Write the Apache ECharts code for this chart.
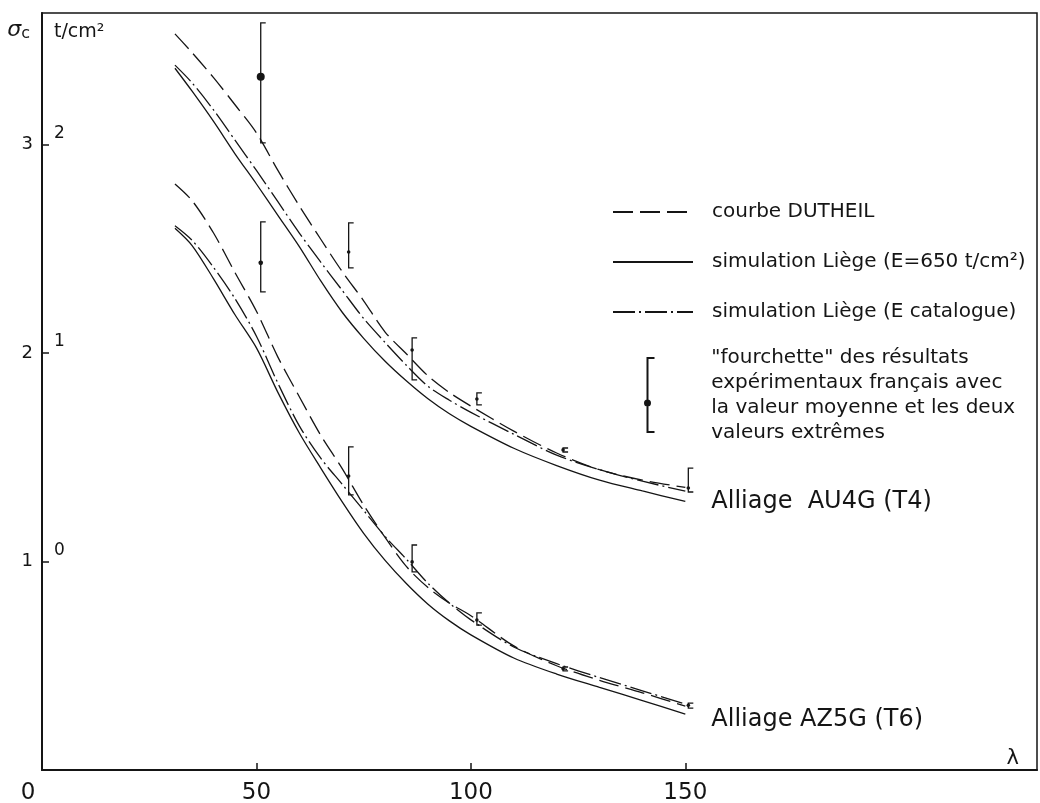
<!DOCTYPE html>
<html>
<head>
<meta charset="utf-8">
<script src="https://cdn.jsdelivr.net/npm/echarts@6/dist/echarts.min.js"></script>
<style>
	html, body { margin: 0; padding: 0; background: #fff; }
	#chart { width: 1040px; height: 803px; }
</style>
</head>
<body>
<div id="chart"></div>
<script>
// λ (elancement) for the curves
var LAMBDA = [31, 35, 40, 45, 50, 55, 60, 65, 70, 75, 80, 85, 90, 95, 100, 110, 120, 130, 140, 150];

// Alliage AU4G (T4) - read on the inner scale (0,1,2)
var AU4G_DUTHEIL = [2.53, 2.44, 2.32, 2.19, 2.055, 1.875, 1.705, 1.545, 1.39, 1.25, 1.10, 0.995, 0.89, 0.81, 0.745, 0.625, 0.52, 0.44, 0.39, 0.355];
var AU4G_E650 = [2.365, 2.255, 2.11, 1.955, 1.81, 1.66, 1.51, 1.345, 1.195, 1.07, 0.96, 0.865, 0.78, 0.708, 0.648, 0.543, 0.46, 0.39, 0.338, 0.288];
var AU4G_CATALOGUE = [2.38, 2.295, 2.165, 2.02, 1.875, 1.725, 1.575, 1.435, 1.30, 1.165, 1.05, 0.94, 0.84, 0.773, 0.715, 0.61, 0.51, 0.44, 0.385, 0.337];

// Alliage AZ5G (T6) - read on the outer scale (1,2,3)
var AZ5G_DUTHEIL = [2.81, 2.73, 2.575, 2.385, 2.2, 1.98, 1.79, 1.605, 1.445, 1.27, 1.115, 0.975, 0.875, 0.80, 0.74, 0.595, 0.50, 0.43, 0.37, 0.306];
var AZ5G_E650 = [2.598, 2.515, 2.355, 2.183, 2.024, 1.811, 1.616, 1.448, 1.286, 1.135, 1.005, 0.893, 0.795, 0.715, 0.648, 0.537, 0.46, 0.396, 0.333, 0.268];
var AZ5G_CATALOGUE = [2.61, 2.54, 2.41, 2.26, 2.08, 1.855, 1.65, 1.495, 1.37, 1.245, 1.12, 1.01, 0.895, 0.80, 0.72, 0.59, 0.51, 0.443, 0.38, 0.316];

// "fourchette" des resultats experimentaux
var ERR_LAMBDA = [51, 71.5, 86.3, 101.4, 121.5, 150.7];
var AU4G_LOW = [2.007, 1.408, 0.871, 0.751, 0.525, 0.333];
var AU4G_HIGH = [2.583, 1.624, 1.072, 0.808, 0.544, 0.448];
var AU4G_MEAN = [2.324, 1.484, 1.014, 0.779, 0.535, 0.352];
var AZ5G_LOW = [2.293, 1.319, 0.950, 0.695, 0.475, 0.297];
var AZ5G_HIGH = [2.628, 1.549, 1.079, 0.753, 0.494, 0.321];
var AZ5G_MEAN = [2.432, 1.410, 0.998, 0.719, 0.485, 0.310];

// axes
var X_TICKS = [50, 100, 150];
var X_LABELS = [0, 50, 100, 150];
var Y_OUTER_LABELS = [1, 2, 3];
var Y_INNER_LABELS = [0, 1, 2];

var NAME_DUTHEIL = 'courbe DUTHEIL';
var NAME_E650 = 'simulation Liège (E=650 t/cm²)';
var NAME_CATALOGUE = 'simulation Liège (E catalogue)';
var NAME_FORK = '"fourchette" des résultats\nexpérimentaux français avec\nla valeur moyenne et les deux\nvaleurs extrêmes';
var ALLOY_LABELS = ['Alliage  AU4G (T4)', 'Alliage AZ5G (T6)'];

var INK = '#151515';
var FONT = 'DejaVu Sans';
var BRACKET_ICON = 'path://M3,0 L11,0 L11,2 L5,2 L5,74 L11,74 L11,76 L3,76 Z M0.5,46 A3.5,3.5 0 1,1 7.5,46 A3.5,3.5 0 1,1 0.5,46 Z';

var sigmaChart = {
	zip : function(xs, ys) {
		var out = [];
		for (var i = 0; i < xs.length; i++) {
			out.push([xs[i], ys[i]]);
		}
		return out;
	},
	bars : function(low, high, mean) {
		var out = [];
		for (var i = 0; i < ERR_LAMBDA.length; i++) {
			out.push([ERR_LAMBDA[i], low[i], high[i], mean[i]]);
		}
		return out;
	},
	/**
	 * bracket "[" with the mean value as a dot
	 */
	renderBracket : function(params, api) {
		var x = api.value(0);
		var top = api.coord([x, api.value(2)]);
		var bot = api.coord([x, api.value(1)]);
		var mid = api.coord([x, api.value(3)]);
		var r = Math.min(4, Math.max(1.8, (bot[1] - top[1]) / 30));
		return {
			type: 'group',
			children: [
				{
					type: 'polyline',
					shape: { points: [[top[0] + 5, top[1]], [top[0], top[1]], [bot[0], bot[1]], [bot[0] + 5, bot[1]]] },
					style: { stroke: INK, fill: null, lineWidth: 1.3 }
				},
				{
					type: 'circle',
					shape: { cx: mid[0], cy: mid[1], r: r },
					style: { fill: INK }
				}
			]
		};
	},
	lineSeries : function(name, data, yIndex, dash, endText, endOffset) {
		var s = {
			name: name,
			type: 'line',
			yAxisIndex: yIndex,
			data: data,
			smooth: 0.3,
			symbol: 'none',
			silent: true,
			lineStyle: { color: INK, width: 1.3, type: dash },
			itemStyle: { color: INK }
		};
		if (endText) {
			s.endLabel = {
				show: true,
				formatter: endText,
				distance: 26,
				offset: endOffset,
				color: INK,
				fontFamily: FONT,
				fontSize: 24
			};
		}
		return s;
	},
	show : function() {
		var myChart = echarts.init(document.getElementById('chart'));
		var dashLong = [20, 7];
		var dashDot = [22, 4, 2, 4];
		var option = {
			animation: false,
			backgroundColor: '#fff',
			textStyle: { fontFamily: FONT, color: INK },
			grid: {
				left: 42, right: 3, top: 13, bottom: 33,
				show: true, borderColor: INK, borderWidth: 1.5,
				containLabel: false, outerBoundsMode: 'none'
			},
			legend: [
				{
					data: [NAME_DUTHEIL, NAME_E650, NAME_CATALOGUE],
					orient: 'vertical',
					left: 612, top: 200,
					padding: 0,
					itemWidth: 80, itemHeight: 14, itemGap: 26,
					selectedMode: false,
					itemStyle: { opacity: 0, color: 'transparent', borderWidth: 0 },
					textStyle: { fontFamily: FONT, fontSize: 20, lineHeight: 24, color: INK, padding: [0, 0, 0, 14] }
				},
				{
					data: [{ name: NAME_FORK, icon: BRACKET_ICON }],
					orient: 'vertical',
					left: 644, top: 345,
					padding: 0,
					itemWidth: 12, itemHeight: 76,
					selectedMode: false,
					itemStyle: { color: INK, borderWidth: 0 },
					textStyle: { fontFamily: FONT, fontSize: 20, lineHeight: 25, color: INK, padding: [0, 0, 0, 51] }
				}
			],
			xAxis: {
				type: 'value',
				min: 0, max: 232, interval: 50,
				name: 'λ',
				nameLocation: 'end',
				nameGap: -18,
				nameTextStyle: { fontFamily: FONT, fontSize: 21, color: INK, align: 'right', verticalAlign: 'bottom', padding: [0, 0, 1, 0] },
				axisLine: { lineStyle: { color: INK, width: 2 } },
				axisTick: { inside: true, length: 7, lineStyle: { color: INK, width: 1.5 }, customValues: X_TICKS },
				axisLabel: {
					customValues: X_LABELS,
					margin: 12,
					fontFamily: FONT, fontSize: 23, color: INK,
					formatter: function(v) { return v === 0 ? '{z|0}' : String(v); },
					rich: { z: { fontFamily: FONT, fontSize: 23, color: INK, padding: [0, 28, 0, 0] } }
				},
				splitLine: { show: false }
			},
			yAxis: [
				{
					type: 'value',
					min: 0, max: 3.63, interval: 1,
					name: '{s|σ}{c|c}',
					nameLocation: 'end',
					nameGap: -29,
					nameTextStyle: {
						align: 'right', padding: [0, 12, 0, 0],
						rich: {
							s: { fontFamily: FONT, fontSize: 22, fontStyle: 'italic', color: INK },
							c: { fontFamily: FONT, fontSize: 16, color: INK, padding: [8, 0, 0, 0] }
						}
					},
					axisLine: { show: true, lineStyle: { color: INK, width: 2 } },
					axisTick: { inside: true, length: 7, lineStyle: { color: INK, width: 1.5 }, customValues: Y_OUTER_LABELS },
					axisLabel: { customValues: Y_OUTER_LABELS, margin: 9, fontFamily: FONT, fontSize: 18, color: INK },
					splitLine: { show: false }
				},
				{
					type: 'value',
					position: 'left',
					min: -1, max: 2.63, interval: 1,
					name: 't/cm²',
					nameLocation: 'end',
					nameGap: -29,
					nameTextStyle: { fontFamily: FONT, fontSize: 19, color: INK, align: 'left', padding: [0, 0, 0, 12] },
					axisLine: { show: false },
					axisTick: { show: false },
					axisLabel: {
						inside: true, customValues: Y_INNER_LABELS, margin: 12,
						fontFamily: FONT, fontSize: 17, color: INK,
						verticalAlign: 'bottom', lineHeight: 22
					},
					splitLine: { show: false }
				}
			],
			series: [
				sigmaChart.lineSeries(NAME_DUTHEIL, sigmaChart.zip(LAMBDA, AU4G_DUTHEIL), 1, dashLong),
				sigmaChart.lineSeries(NAME_E650, sigmaChart.zip(LAMBDA, AU4G_E650), 1, 'solid', ALLOY_LABELS[0], [0, 0]),
				sigmaChart.lineSeries(NAME_CATALOGUE, sigmaChart.zip(LAMBDA, AU4G_CATALOGUE), 1, dashDot),
				sigmaChart.lineSeries(NAME_DUTHEIL, sigmaChart.zip(LAMBDA, AZ5G_DUTHEIL), 0, dashLong),
				sigmaChart.lineSeries(NAME_E650, sigmaChart.zip(LAMBDA, AZ5G_E650), 0, 'solid', ALLOY_LABELS[1], [0, 6]),
				sigmaChart.lineSeries(NAME_CATALOGUE, sigmaChart.zip(LAMBDA, AZ5G_CATALOGUE), 0, dashDot),
				{
					name: NAME_FORK,
					type: 'custom',
					yAxisIndex: 1,
					silent: true,
					itemStyle: { color: INK },
					renderItem: sigmaChart.renderBracket,
					encode: { x: 0, y: [1, 2, 3] },
					data: sigmaChart.bars(AU4G_LOW, AU4G_HIGH, AU4G_MEAN)
				},
				{
					name: NAME_FORK,
					type: 'custom',
					yAxisIndex: 0,
					silent: true,
					itemStyle: { color: INK },
					renderItem: sigmaChart.renderBracket,
					encode: { x: 0, y: [1, 2, 3] },
					data: sigmaChart.bars(AZ5G_LOW, AZ5G_HIGH, AZ5G_MEAN)
				}
			]
		};
		// 显示图表
		myChart.setOption(option);
	}
};

sigmaChart.show();
</script>
</body>
</html>
